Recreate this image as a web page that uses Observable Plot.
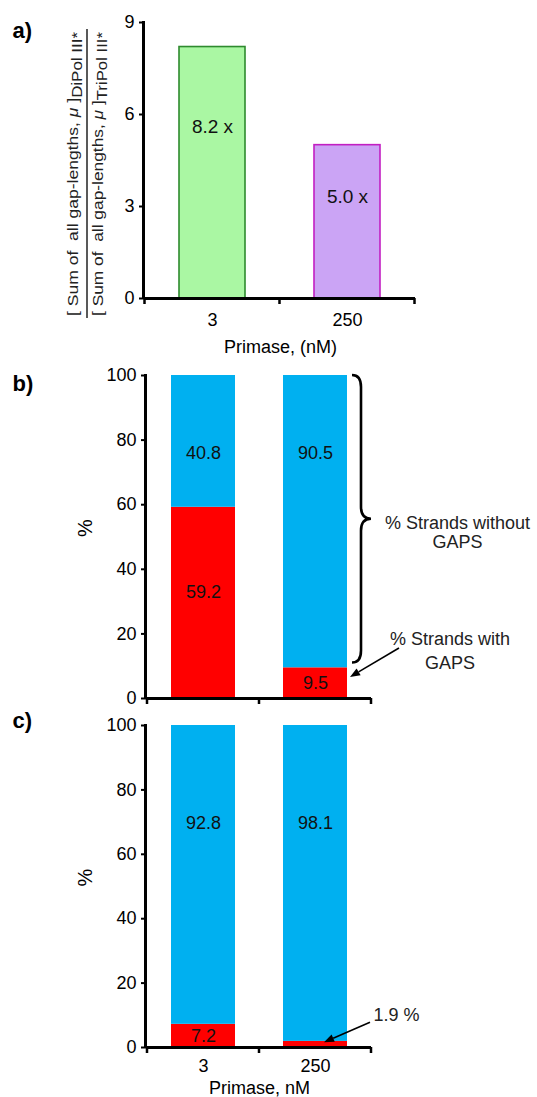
<!DOCTYPE html>
<html>
<head>
<meta charset="utf-8">
<script src="https://cdn.jsdelivr.net/npm/d3@7"></script>
<script src="https://cdn.jsdelivr.net/npm/@observablehq/plot@0.6"></script>
<style>
  body { margin: 0; background: #fff; }
  #root { width: 537px; height: 1097px; position: relative; overflow: hidden; }
  #root svg { display: block; overflow: visible; }
</style>
</head>
<body>
<div id="root"></div>
<script>
// ---------------- data ----------------
const primase = ["3", "250"];

// panel a: ratio of summed gap lengths
const ratioA = [8.2, 5.0];
const ratioTextA = ["8.2 x", "5.0 x"];
const ratioTextAtA = [5.6, 3.3];
const ratioFillA = ["#aaf7a3", "#cba4f5"];
const ratioStrokeA = ["#2e8a2e", "#c21fc2"];
const ticksA = [0, 3, 6, 9];

// panel b: % strands with / without gaps
const withGapsB = [59.2, 9.5];
const withoutGapsB = [40.8, 90.5];
const withAtB = [33, 4.75];
const withoutAtB = [76, 76];

// panel c
const withGapsC = [7.2, 1.9];
const withoutGapsC = [92.8, 98.1];
const withAtC = [3.6, null];
const withoutAtC = [69.5, 69.5];

const ticksPct = [0, 20, 40, 60, 80, 100];
const series = ["with", "without"];
const seriesColors = ["#ff0000", "#00b0f0"];

// ---------------- helpers ----------------
const FONT = "'Liberation Sans', Arial, Helvetica, sans-serif";
const root = document.getElementById("root");

function bandInfo(svg) {
  const x = svg.scale("x");
  const bw = x.bandwidth;
  const step = x.step ?? bw / (1 - (x.paddingInner ?? 0));
  return {x, bw, step};
}
function boundaryTicks(svg, len = 6) {
  const {x, bw, step} = bandInfo(svg);
  const y0 = svg.scale("y").apply(0);
  const gap = (step - bw) / 2;
  const xs = new Set();
  for (const d of x.domain) {
    const s = x.apply(d);
    xs.add(Math.round((s - gap) * 10) / 10);
    xs.add(Math.round((s + bw + gap) * 10) / 10);
  }
  d3.select(svg).append("g").attr("stroke", "black").attr("stroke-width", 2.5)
    .selectAll("line").data([...xs]).join("line")
    .attr("x1", d => d).attr("x2", d => d).attr("y1", y0).attr("y2", y0 + len);
}
function yAxisLine(svg) {
  const y = svg.scale("y");
  const x0 = svg.scale("x").range[0];
  const [a, b] = y.domain;
  d3.select(svg).append("line").attr("stroke", "black").attr("stroke-width", 3)
    .attr("x1", x0 - 1.5).attr("x2", x0 - 1.5).attr("y1", y.apply(b) - 1).attr("y2", y.apply(a) + 1);
}
function arrow(svg, x1, y1, x2, y2) {
  const g = d3.select(svg).append("g").attr("stroke", "black").attr("fill", "black");
  const ang = Math.atan2(y2 - y1, x2 - x1);
  const L = 10, W = 4;
  const bx = x2 - L * Math.cos(ang), by = y2 - L * Math.sin(ang);
  g.append("line").attr("x1", x1).attr("y1", y1).attr("x2", bx).attr("y2", by).attr("stroke-width", 1.6);
  const px = -Math.sin(ang) * W, py = Math.cos(ang) * W;
  g.append("path").attr("stroke", "none")
    .attr("d", `M${x2},${y2}L${bx + px},${by + py}L${bx - px},${by - py}Z`);
}

function stackRows(withV, withoutV) {
  return primase.flatMap((p, i) => [
    {p, s: "with", v: withV[i]},
    {p, s: "without", v: withoutV[i]}
  ]);
}
function labelRows(withV, withoutV, withAt, withoutAt) {
  const rows = [];
  primase.forEach((p, i) => {
    if (withAt[i] != null) rows.push({p, at: withAt[i], t: String(withV[i])});
    if (withoutAt[i] != null) rows.push({p, at: withoutAt[i], t: String(withoutV[i])});
  });
  return rows;
}

// ---------------- panel a ----------------
const dataA = primase.map((p, i) => ({p, v: ratioA[i], t: ratioTextA[i], at: ratioTextAtA[i]}));
const svgA = Plot.plot({
  width: 537, height: 355,
  marginLeft: 145, marginRight: 122, marginTop: 22, marginBottom: 57,
  style: {fontFamily: FONT, fontSize: "18px", color: "#000", background: "#fff"},
  x: {domain: primase, paddingInner: 0.51, paddingOuter: 0.25},
  y: {domain: [0, 9]},
  color: {type: "identity"},
  marks: [
    Plot.barY(dataA, {x: "p", y: "v", fill: (d, i) => ratioFillA[i], stroke: (d, i) => ratioStrokeA[i], strokeWidth: 1.6, inset: 0}),
    Plot.text(dataA, {x: "p", y: "at", text: "t", fontSize: 19, fill: "#111"}),
    Plot.ruleY([0], {strokeWidth: 3}),
    Plot.axisY({ticks: ticksA, tickSize: 6, tickPadding: 5, strokeWidth: 2, label: null}),
    Plot.axisX({tickSize: 0, tickPadding: 15, label: "Primase, (nM)", labelAnchor: "center", labelOffset: 54}),
    Plot.text(["a)"], {frameAnchor: "top-left", dx: 12 - 145, dy: 0, textAnchor: "start", fontSize: 22, fontWeight: "bold"})
  ]
});
root.appendChild(svgA);
yAxisLine(svgA);
boundaryTicks(svgA);
{
  // fraction y-label
  const g = d3.select(svgA).append("g").attr("font-family", FONT).attr("fill", "#222");
  const lines = [
    {cx: 78, sub: "DiPol III*"},
    {cx: 103, sub: "TriPol III*"}
  ];
  for (const ln of lines) {
    const t = g.append("text").attr("font-size", 14.5).attr("xml:space", "preserve")
      .attr("text-anchor", "start")
      .attr("textLength", 284).attr("lengthAdjust", "spacingAndGlyphs")
      .attr("transform", `translate(${ln.cx},316) rotate(-90)`);
    t.append("tspan").text("[ Sum of  all gap-lengths, ");
    t.append("tspan").attr("font-style", "italic").text("μ");
    t.append("tspan").text(" ]");
    t.append("tspan").attr("dy", 4).attr("font-size", 14).text(ln.sub);
  }
  g.append("line").attr("x1", 87).attr("x2", 87).attr("y1", 29).attr("y2", 318)
    .attr("stroke", "#222").attr("stroke-width", 1.5);
}

// ---------------- panel b ----------------
const rowsB = stackRows(withGapsB, withoutGapsB);
const labsB = labelRows(withGapsB, withoutGapsB, withAtB, withoutAtB);
const svgB = Plot.plot({
  width: 537, height: 351,
  marginLeft: 147, marginRight: 166, marginTop: 20, marginBottom: 8,
  style: {fontFamily: FONT, fontSize: "18px", color: "#000", background: "#fff"},
  x: {domain: primase, paddingInner: 0.43, paddingOuter: 0.21, axis: null},
  y: {domain: [0, 100]},
  color: {domain: series, range: seriesColors},
  marks: [
    Plot.barY(rowsB, {x: "p", y: "v", fill: "s"}),
    Plot.text(labsB, {x: "p", y: "at", text: "t", fontSize: 18, fill: "#111"}),
    Plot.ruleY([0], {strokeWidth: 3}),
    Plot.axisY({ticks: ticksPct, tickSize: 6, tickPadding: 5, strokeWidth: 2, label: null}),
    Plot.text(["%"], {frameAnchor: "left", dx: -62, rotate: -90, fontSize: 20}),
    Plot.text(["b)"], {frameAnchor: "top-left", dx: 12 - 147, dy: 0, textAnchor: "start", fontSize: 22, fontWeight: "bold"}),
    Plot.text(["% Strands without\nGAPS"], {x: () => "250", y: () => 51.4, dx: 142, lineHeight: 1.05, fontSize: 18, fill: "#222"}),
    Plot.text(["% Strands with\nGAPS"], {x: () => "250", y: () => 15.2, dx: 134.5, lineHeight: 1.3, fontSize: 18, fill: "#222"})
  ]
});
root.appendChild(svgB);
yAxisLine(svgB);
boundaryTicks(svgB);
{
  const {x, bw} = bandInfo(svgB);
  const y = svgB.scale("y");
  const right = x.apply("250") + bw;
  // curly brace spanning the "without" segment
  const x0 = right + 5, xs = x0 + 9, xt = x0 + 19;
  const yT = y.apply(100), yB = y.apply(11), yM = (yT + yB) / 2;
  const r = 12;
  d3.select(svgB).append("path").attr("fill", "none").attr("stroke", "black").attr("stroke-width", 2.6)
    .attr("d", `M${x0},${yT}Q${xs},${yT} ${xs},${yT + r}L${xs},${yM - r}Q${xs},${yM} ${xt},${yM}` +
               `Q${xs},${yM} ${xs},${yM + r}L${xs},${yB - r}Q${xs},${yB} ${x0},${yB}`);
  const tx = right + 3, ty = y.apply(6.5);
  arrow(svgB, tx + 49, ty - 29, tx, ty);
}

// ---------------- panel c ----------------
const rowsC = stackRows(withGapsC, withoutGapsC);
const labsC = labelRows(withGapsC, withoutGapsC, withAtC, withoutAtC);
const svgC = Plot.plot({
  width: 537, height: 391,
  marginLeft: 147, marginRight: 166, marginTop: 19, marginBottom: 50,
  style: {fontFamily: FONT, fontSize: "18px", color: "#000", background: "#fff"},
  x: {domain: primase, paddingInner: 0.43, paddingOuter: 0.21},
  y: {domain: [0, 100]},
  color: {domain: series, range: seriesColors},
  marks: [
    Plot.barY(rowsC, {x: "p", y: "v", fill: "s"}),
    Plot.text(labsC, {x: "p", y: "at", text: "t", fontSize: 18, fill: "#111"}),
    Plot.ruleY([0], {strokeWidth: 3}),
    Plot.axisY({ticks: ticksPct, tickSize: 6, tickPadding: 5, strokeWidth: 2, label: null}),
    Plot.axisX({tickSize: 0, tickPadding: 12, label: "Primase, nM", labelAnchor: "center", labelOffset: 46}),
    Plot.text(["%"], {frameAnchor: "left", dx: -62, rotate: -90, fontSize: 20}),
    Plot.text(["c)"], {frameAnchor: "top-left", dx: 12 - 147, dy: -13, textAnchor: "start", fontSize: 22, fontWeight: "bold"}),
    Plot.text(["1.9 %"], {x: () => "250", y: () => 10, dx: 58, textAnchor: "start", fontSize: 18, fill: "#222"})
  ]
});
root.appendChild(svgC);
yAxisLine(svgC);
boundaryTicks(svgC);
{
  const {x, bw} = bandInfo(svgC);
  const y = svgC.scale("y");
  const tx = x.apply("250") + bw / 2 + 9, ty = y.apply(1.5);
  arrow(svgC, tx + 46, ty - 20, tx, ty);
}
</script>
</body>
</html>
